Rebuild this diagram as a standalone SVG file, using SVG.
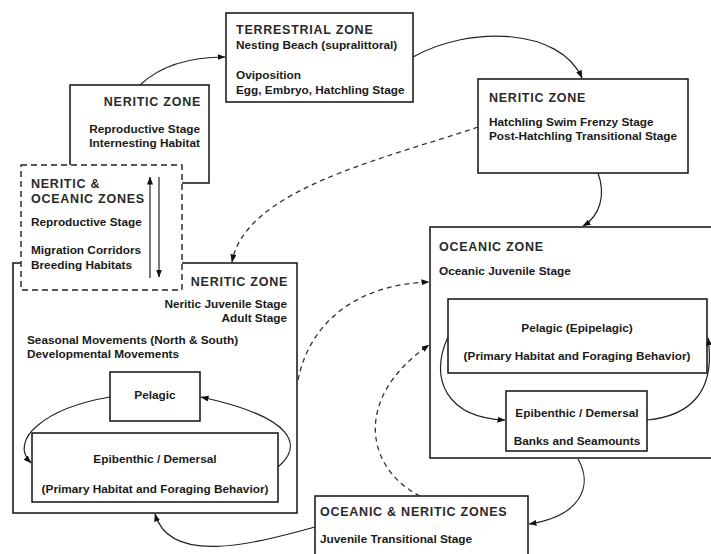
<svg xmlns="http://www.w3.org/2000/svg" width="711" height="554" viewBox="0 0 711 554">
<defs>
<marker id="ah" markerUnits="userSpaceOnUse" markerWidth="8" markerHeight="7" refX="7.5" refY="3" orient="auto">
<path d="M0,0 L8,3 L0,6 z" fill="#111"/>
</marker>
<style>
.box{fill:#fff;stroke:#111;stroke-width:1.5}
.dbox{fill:#fff;stroke:#222;stroke-width:1.4;stroke-dasharray:6,4}
.t{font-family:"Liberation Sans",Arial,sans-serif;font-weight:bold;font-size:11.8px;fill:#1a1a1a}
.h{font-family:"Liberation Sans",Arial,sans-serif;font-weight:bold;font-size:12.5px;letter-spacing:0.75px;fill:#2a2a2a}
.r{text-anchor:end}
.c{text-anchor:middle}
.ln{fill:none;stroke:#222;stroke-width:1.2}
.dl{fill:none;stroke:#333;stroke-width:1.3;stroke-dasharray:5,4}
</style>
</defs>
<g id="terrestrial">
<rect class="box" x="226" y="13" width="187" height="89"/>
<text class="h" x="236" y="34">TERRESTRIAL ZONE</text>
<text class="t" x="236" y="49">Nesting Beach (supralittoral)</text>
<text class="t" x="236" y="79">Oviposition</text>
<text class="t" x="236" y="94">Egg, Embryo, Hatchling Stage</text>
</g>
<g id="neritic-reproductive">
<rect class="box" x="70" y="85" width="139" height="98"/>
<text class="h r" x="201" y="106">NERITIC ZONE</text>
<text class="t r" x="200" y="133">Reproductive Stage</text>
<text class="t r" x="200" y="147">Internesting Habitat</text>
</g>
<g id="neritic-juvenile">
<rect class="box" x="13" y="263" width="284" height="250"/>
<text class="h r" x="288" y="286">NERITIC ZONE</text>
<text class="t r" x="287" y="308">Neritic Juvenile Stage</text>
<text class="t r" x="287" y="322">Adult Stage</text>
<text class="t" x="27" y="344">Seasonal Movements (North &amp; South)</text>
<text class="t" x="27" y="358">Developmental Movements</text>
</g>
<g id="neritic-pelagic">
<rect class="box" x="110" y="372" width="90" height="49"/>
<text class="t c" x="155" y="399">Pelagic</text>
</g>
<g id="neritic-epibenthic">
<rect class="box" x="32" y="433" width="246" height="69"/>
<text class="t c" x="155" y="463">Epibenthic / Demersal</text>
<text class="t c" x="155" y="493">(Primary Habitat and Foraging Behavior)</text>
</g>
<g id="neritic-oceanic-migration">
<rect class="dbox" x="21" y="165" width="161" height="125"/>
<text class="h" x="31" y="188">NERITIC &amp;</text>
<text class="h" x="31" y="203">OCEANIC ZONES</text>
<text class="t" x="31" y="226">Reproductive Stage</text>
<text class="t" x="31" y="254">Migration Corridors</text>
<text class="t" x="31" y="269">Breeding Habitats</text>
</g>
<g id="neritic-hatchling">
<rect class="box" x="478" y="79" width="210" height="94"/>
<text class="h" x="489" y="102">NERITIC ZONE</text>
<text class="t" x="489" y="126">Hatchling Swim Frenzy Stage</text>
<text class="t" x="489" y="140">Post-Hatchling Transitional Stage</text>
</g>
<g id="oceanic">
<rect class="box" x="430" y="227" width="290" height="231"/>
<text class="h" x="439" y="251">OCEANIC ZONE</text>
<text class="t" x="439" y="275">Oceanic Juvenile Stage</text>
</g>
<g id="oceanic-pelagic">
<rect class="box" x="448" y="299" width="259" height="74"/>
<text class="t c" x="577" y="332">Pelagic (Epipelagic)</text>
<text class="t c" x="577" y="360">(Primary Habitat and Foraging Behavior)</text>
</g>
<g id="oceanic-epibenthic">
<rect class="box" x="506" y="391" width="141" height="60"/>
<text class="t c" x="577" y="417">Epibenthic / Demersal</text>
<text class="t c" x="577" y="445">Banks and Seamounts</text>
</g>
<g id="oceanic-neritic-transitional">
<rect class="box" x="315" y="496" width="213" height="70"/>
<text class="h" x="320" y="516">OCEANIC &amp; NERITIC ZONES</text>
<text class="t" x="320" y="543">Juvenile Transitional Stage</text>
</g>
<g id="connectors">
<path class="ln" d="M140,85 C160,66 188,57 225,57" marker-end="url(#ah)"/>
<path class="ln" d="M413,57 C470,25 560,28 582,78" marker-end="url(#ah)"/>
<path class="ln" d="M598,173 C606,195 600,216 583,226" marker-end="url(#ah)"/>
<path class="ln" d="M578,459 C593,485 582,516 529,524" marker-end="url(#ah)"/>
<path class="ln" d="M315,527 C250,545 170,565 155,514" marker-end="url(#ah)"/>
<path class="ln" d="M110,397 C45,408 8,440 31,463" marker-end="url(#ah)"/>
<path class="ln" d="M278,467 C302,447 298,418 201,397" marker-end="url(#ah)"/>
<path class="ln" d="M448,337 C428,380 448,418 505,420" marker-end="url(#ah)"/>
<path class="ln" d="M647,420 C690,416 716,392 708,338" marker-end="url(#ah)"/>
<line class="ln" x1="150" y1="278" x2="150" y2="177" marker-end="url(#ah)"/>
<line class="ln" x1="159" y1="177" x2="159" y2="277" marker-end="url(#ah)"/>
<path class="dl" d="M478,127 C380,160 245,190 232,262" marker-end="url(#ah)"/>
<path class="dl" d="M298,380 C310,320 360,284 429,282" marker-end="url(#ah)"/>
<path class="dl" d="M420,496 C368,470 350,400 429,345" marker-end="url(#ah)"/>
</g>
</svg>
